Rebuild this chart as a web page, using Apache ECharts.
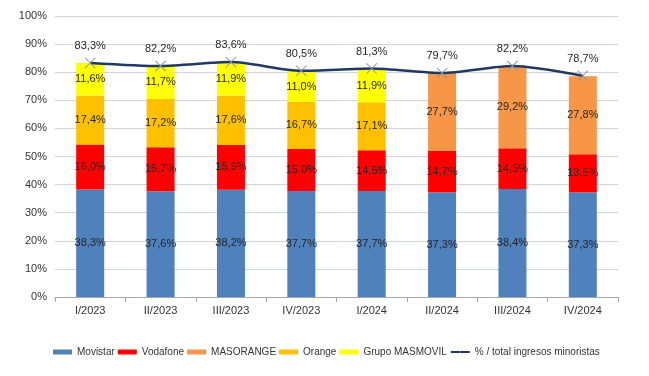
<!DOCTYPE html>
<html>
<head>
<meta charset="utf-8">
<script src="https://cdn.jsdelivr.net/npm/echarts@6/dist/echarts.min.js"></script>
<style>
  html, body { margin: 0; padding: 0; background: #fff; }
  #chart { width: 649px; height: 376px; }
</style>
</head>
<body>
<div id="chart"></div>
<script>
// datos (% sobre ingresos minoristas)
var categories = ['I/2023', 'II/2023', 'III/2023', 'IV/2023', 'I/2024', 'II/2024', 'III/2024', 'IV/2024'];
var movistar = [38.3, 37.6, 38.2, 37.7, 37.7, 37.3, 38.4, 37.3];
var vodafone = [16.0, 15.7, 15.9, 15.0, 14.5, 14.7, 14.5, 13.5];
var masorange = [null, null, null, null, null, 27.7, 29.2, 27.8];
var orange = [17.4, 17.2, 17.6, 16.7, 17.1, null, null, null];
var masmovil = [11.6, 11.7, 11.9, 11.0, 11.9, null, null, null];
var totalPct = [83.3, 82.2, 83.6, 80.5, 81.3, 79.7, 82.2, 78.7];
var yTicks = [0, 10, 20, 30, 40, 50, 60, 70, 80, 90, 100];

var fontFam = '"Liberation Sans", Arial, sans-serif';

function fmt(v) {
    return v.toFixed(1).replace('.', ',') + '%';
}

function barSerie(name, data, color) {
    return {
        name: name,
        type: 'bar',
        stack: 'total',
        barWidth: 28,
        data: data,
        itemStyle: { color: color },
        label: {
            show: true,
            position: 'inside',
            color: '#262626',
            fontSize: 11,
            fontFamily: fontFam,
            formatter: function (p) { return p.value == null ? '' : fmt(p.value); }
        }
    };
}

var myChart = echarts.init(document.getElementById('chart'));

// aspa fina como marcador
var xMarker = 'path://M0,0.6L0.6,0L5,4.4L9.4,0L10,0.6L5.6,5L10,9.4L9.4,10L5,5.6L0.6,10L0,9.4L4.4,5Z';

var option = {
    animation: false,
    textStyle: { fontFamily: fontFam },
    grid: { left: 55, right: 31, top: 16, bottom: 79 },
    legend: {
        bottom: 14,
        left: 48,
        itemWidth: 19,
        itemHeight: 5,
        itemGap: 3,
        textStyle: { fontSize: 10, color: '#333', fontFamily: fontFam },
        data: [
            { name: 'Movistar', icon: 'rect' },
            { name: 'Vodafone', icon: 'rect' },
            { name: 'MASORANGE', icon: 'rect' },
            { name: 'Orange', icon: 'rect' },
            { name: 'Grupo MASMOVIL', icon: 'rect' },
            { name: '% / total ingresos minoristas' }
        ]
    },
    xAxis: {
        type: 'category',
        data: categories,
        axisLine: { lineStyle: { color: '#a6a6a6' } },
        axisTick: { show: true, length: 5, lineStyle: { color: '#a6a6a6' } },
        axisLabel: { color: '#333', fontSize: 11, margin: 8 }
    },
    yAxis: {
        type: 'value',
        min: yTicks[0],
        max: yTicks[yTicks.length - 1],
        interval: 10,
        axisLine: { show: false },
        axisTick: { show: false },
        axisLabel: { color: '#333', fontSize: 11, formatter: '{value}%' },
        splitLine: { lineStyle: { color: '#d0d4dc' } }
    },
    series: [
        barSerie('Movistar', movistar, '#4f81bd'),
        barSerie('Vodafone', vodafone, '#ff0000'),
        barSerie('MASORANGE', masorange, '#f79646'),
        barSerie('Orange', orange, '#ffc000'),
        barSerie('Grupo MASMOVIL', masmovil, '#ffff00'),
        {
            name: '% / total ingresos minoristas',
            type: 'line',
            data: totalPct,
            z: 5,
            smooth: 0.25,
            symbol: xMarker,
            symbolSize: 11,
            lineStyle: { color: '#1f3864', width: 2.5 },
            itemStyle: { color: '#8a94a3' },
            label: {
                show: true,
                position: 'top',
                distance: 6,
                color: '#262626',
                fontSize: 11,
                formatter: function (p) { return fmt(p.value); }
            }
        }
    ]
};

myChart.setOption(option);
</script>
</body>
</html>
